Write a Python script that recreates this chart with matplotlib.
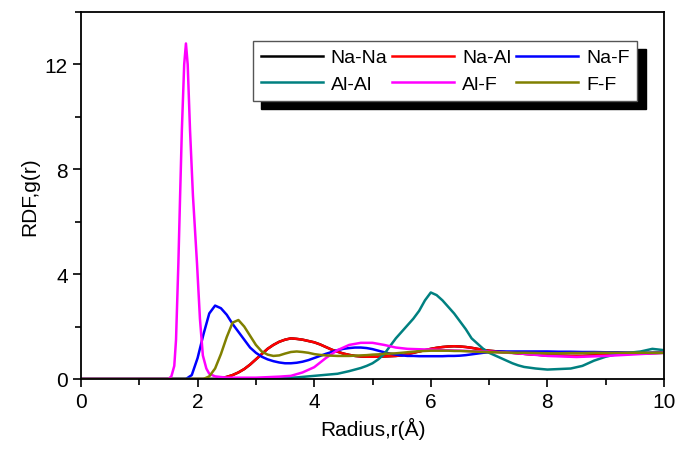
import matplotlib
matplotlib.use("Agg")
import matplotlib.pyplot as plt
from matplotlib.ticker import MultipleLocator

plt.rcParams['font.family'] = ['Liberation Sans', 'DejaVu Sans']

# shared radius grid (Å)
r = [0.0, 0.5, 1.0, 1.5, 1.8, 1.9, 2.0, 2.1, 2.2, 2.3, 2.4, 2.5, 2.6, 2.7, 2.8, 2.9,
     3.0, 3.1, 3.2, 3.3, 3.4, 3.5, 3.6, 3.7, 3.8, 3.9, 4.0, 4.1, 4.2, 4.3, 4.4, 4.5,
     4.6, 4.7, 4.8, 4.9, 5.0, 5.1, 5.2, 5.3, 5.4, 5.5, 5.6, 5.7, 5.8, 5.9, 6.0, 6.1,
     6.2, 6.3, 6.4, 6.5, 6.6, 6.7, 6.8, 6.9, 7.0, 7.1, 7.2, 7.3, 7.4, 7.5, 7.6, 7.8,
     8.0, 8.2, 8.4, 8.6, 8.8, 9.0, 9.2, 9.4, 9.6, 9.8, 10.0]

na_al = [0, 0, 0, 0, 0, 0, 0, 0, 0, 0, 0.03, 0.08, 0.15, 0.25, 0.38, 0.55,
         0.75, 0.95, 1.15, 1.30, 1.42, 1.50, 1.55, 1.53, 1.50, 1.45, 1.40, 1.32, 1.22, 1.12, 1.04, 0.97,
         0.92, 0.88, 0.86, 0.85, 0.85, 0.85, 0.86, 0.87, 0.88, 0.90, 0.95, 1.00, 1.05, 1.10, 1.15, 1.19,
         1.22, 1.24, 1.25, 1.24, 1.22, 1.19, 1.15, 1.11, 1.08, 1.06, 1.04, 1.02, 1.00, 0.98, 0.96, 0.93,
         0.90, 0.89, 0.88, 0.88, 0.90, 0.92, 0.94, 0.96, 0.97, 0.99, 1.00]

na_na = [0, 0, 0, 0, 0, 0, 0, 0, 0, 0, 0.03, 0.08, 0.15, 0.25, 0.38, 0.55,
         0.75, 0.95, 1.15, 1.30, 1.42, 1.50, 1.55, 1.53, 1.50, 1.45, 1.40, 1.32, 1.22, 1.12, 1.04, 0.97,
         0.92, 0.88, 0.86, 0.85, 0.85, 0.85, 0.86, 0.87, 0.88, 0.90, 0.95, 1.00, 1.05, 1.10, 1.15, 1.19,
         1.22, 1.24, 1.25, 1.24, 1.22, 1.19, 1.15, 1.11, 1.08, 1.06, 1.04, 1.02, 1.00, 0.98, 0.96, 0.93,
         0.90, 0.89, 0.88, 0.88, 0.90, 0.92, 0.94, 0.96, 0.97, 0.99, 1.00]

na_f = [0, 0, 0, 0, 0, 0.15, 0.80, 1.70, 2.50, 2.80, 2.70, 2.45, 2.10, 1.80, 1.50, 1.20,
        1.00, 0.85, 0.75, 0.68, 0.63, 0.60, 0.60, 0.62, 0.66, 0.72, 0.80, 0.88, 0.96, 1.03, 1.10, 1.15,
        1.18, 1.20, 1.20, 1.18, 1.14, 1.08, 1.02, 0.97, 0.93, 0.90, 0.88, 0.88, 0.87, 0.87, 0.87, 0.87,
        0.87, 0.88, 0.88, 0.89, 0.91, 0.94, 0.97, 1.00, 1.02, 1.04, 1.05, 1.05, 1.05, 1.05, 1.05, 1.05,
        1.05, 1.04, 1.04, 1.03, 1.03, 1.02, 1.02, 1.01, 1.01, 1.00, 1.00]

al_al = [0, 0, 0, 0, 0, 0, 0, 0, 0, 0, 0, 0, 0, 0, 0, 0,
         0, 0, 0, 0, 0.02, 0.03, 0.05, 0.06, 0.08, 0.10, 0.12, 0.14, 0.16, 0.18, 0.20, 0.25,
         0.30, 0.36, 0.42, 0.50, 0.60, 0.75, 0.95, 1.25, 1.55, 1.80, 2.05, 2.30, 2.60, 3.00, 3.30, 3.20,
         3.00, 2.75, 2.50, 2.20, 1.90, 1.55, 1.35, 1.15, 1.00, 0.90, 0.80, 0.70, 0.60, 0.52, 0.46, 0.40,
         0.36, 0.38, 0.40, 0.50, 0.70, 0.85, 0.95, 1.00, 1.05, 1.15, 1.10]

f_f = [0, 0, 0, 0, 0, 0, 0, 0, 0.10, 0.40, 0.95, 1.60, 2.15, 2.25, 2.00, 1.65,
       1.30, 1.05, 0.93, 0.88, 0.90, 0.97, 1.03, 1.05, 1.03, 1.00, 0.95, 0.92, 0.90, 0.89, 0.88, 0.88,
       0.88, 0.89, 0.90, 0.91, 0.93, 0.94, 0.96, 0.97, 0.98, 1.00, 1.02, 1.04, 1.06, 1.07, 1.08, 1.08,
       1.08, 1.08, 1.07, 1.07, 1.06, 1.05, 1.04, 1.03, 1.02, 1.02, 1.01, 1.01, 1.00, 1.00, 1.00, 0.99,
       0.98, 0.98, 0.99, 0.99, 1.00, 1.00, 1.00, 1.00, 1.00, 1.00, 1.00]

# Al-F has a very sharp first peak, so it gets its own finer grid
r_alf = [0.0, 1.0, 1.50, 1.55, 1.60, 1.63, 1.67, 1.70, 1.73, 1.77, 1.80, 1.83, 1.87, 1.92,
         1.99, 2.04, 2.09, 2.15, 2.20, 2.30, 2.50, 3.00, 3.20, 3.40, 3.60, 3.80, 4.00, 4.20,
         4.40, 4.60, 4.80, 5.00, 5.20, 5.40, 5.60, 6.00, 6.50, 7.00, 7.50, 8.00, 8.50, 9.00,
         9.50, 10.0]
al_f = [0, 0, 0, 0.10, 0.50, 1.50, 4.40, 7.00, 9.50, 12.0, 12.8, 12.0, 9.50, 7.00,
        4.40, 2.30, 0.90, 0.40, 0.20, 0.10, 0.05, 0.05, 0.07, 0.09, 0.12, 0.25, 0.45, 0.80,
        1.10, 1.30, 1.38, 1.38, 1.30, 1.20, 1.15, 1.12, 1.08, 1.04, 0.98, 0.88, 0.84, 0.88,
        0.94, 1.00]

labels = ["Na-Na", "Na-Al", "Na-F", "Al-Al", "Al-F", "F-F"]
colors = ["#000000", "#ff0000", "#0000ff", "#008080", "#ff00ff", "#808000"]

fig = plt.figure(figsize=(6.77, 4.52), dpi=100)
ax = fig.add_axes([81/677, 1-380/452, (664-81)/677, (380-13)/452])

series = [(r, na_na), (r, na_al), (r, na_f), (r, al_al), (r_alf, al_f), (r, f_f)]
handles = []
for (x, y), lab, c in zip(series, labels, colors):
    h, = ax.plot(x, y, color=c, lw=1.8, label=lab)
    handles.append(h)

ax.set_xlim(0, 10)
ax.set_ylim(0, 14)
ax.xaxis.set_major_locator(MultipleLocator(2))
ax.xaxis.set_minor_locator(MultipleLocator(1))
ax.yaxis.set_major_locator(MultipleLocator(4))
ax.yaxis.set_minor_locator(MultipleLocator(2))
ax.set_yticks([0, 4, 8, 12])
ax.tick_params(which='both', direction='out', labelsize=15, width=1.2)
ax.tick_params(which='major', length=6)
ax.tick_params(which='minor', length=4)
for s in ax.spines.values():
    s.set_linewidth(1.3)

ax.set_xlabel("Radius,r(Å)", fontsize=15, labelpad=4)
ax.set_ylabel("RDF,g(r)", fontsize=15, labelpad=4)

# row-major legend order (matplotlib fills columns first)
order = [0, 3, 1, 4, 2, 5]
leg = ax.legend([handles[i] for i in order], [labels[i] for i in order],
                loc='upper left', bbox_to_anchor=(0.295, 0.763, 0.659, 0.158),
                mode='expand', ncol=3, fontsize=14, handlelength=3.2,
                frameon=True, fancybox=False, borderaxespad=0,
                handletextpad=0.4, columnspacing=0.4, borderpad=0.4, labelspacing=0.45,
                shadow={'color': 'black', 'alpha': 1, 'ox': 6, 'oy': -6})
leg.get_frame().set_edgecolor('#555555')
leg.get_frame().set_linewidth(1.0)
leg.get_frame().set_alpha(1)

fig.savefig("out.png", dpi=100)
